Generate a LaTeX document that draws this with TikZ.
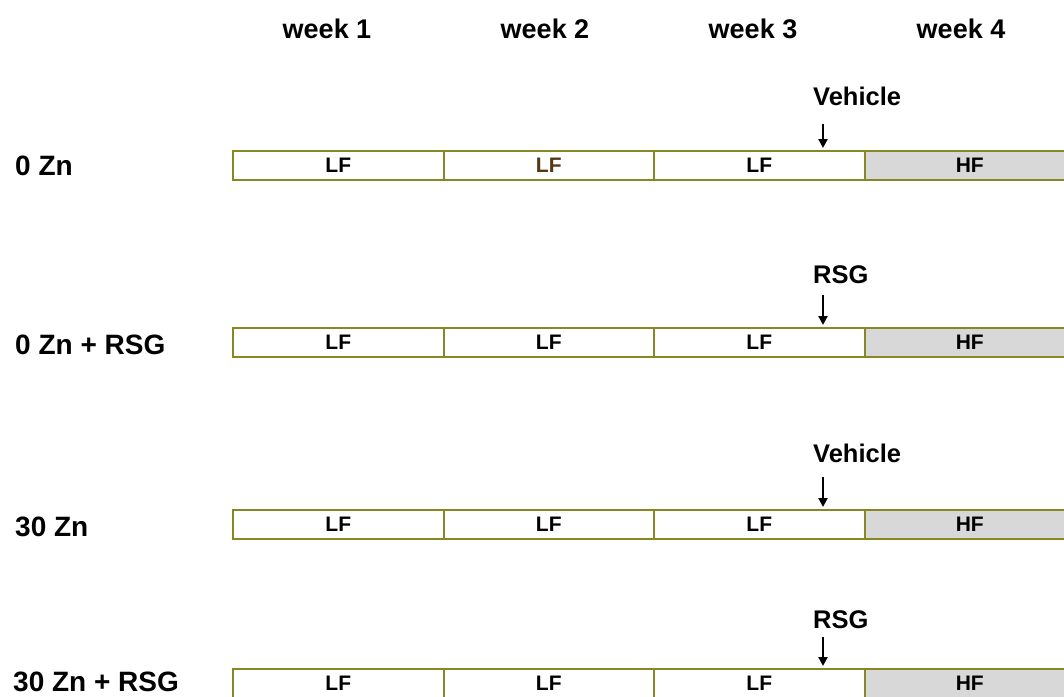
\documentclass[tikz,border=0pt]{standalone}
\usepackage{fontspec}
\setmainfont{Liberation Sans}
\usetikzlibrary{arrows.meta}
\definecolor{olivec}{RGB}{135,135,35}
\definecolor{hfgray}{RGB}{216,216,216}
\definecolor{brownlf}{RGB}{85,55,20}
\tikzset{
  seg/.style={draw=olivec, line width=2pt, minimum width=210.5pt, minimum height=29pt,
    inner sep=0pt, anchor=north west, fill=white,
    font=\fontsize{21}{21}\selectfont\bfseries},
  hfseg/.style={seg, fill=hfgray},
  weeklbl/.style={anchor=base, inner sep=0pt, font=\fontsize{27}{27}\selectfont\bfseries},
  rowlbl/.style={anchor=base west, inner sep=0pt, font=\fontsize{28}{28}\selectfont\bfseries},
  treat/.style={anchor=base west, inner sep=0pt, font=\fontsize{25.5}{25.5}\selectfont\bfseries},
  arr/.style={-{Triangle[length=9pt,width=9pt]}, line width=2.4pt, black}
}
\begin{document}
\begin{tikzpicture}[x=1pt,y=-1pt]
\clip (0,0) rectangle (1064,696);
\fill[white] (0,0) rectangle (1064,696);
% week labels
\node[weeklbl] (w1) at (327,38) {week 1};
\node[weeklbl] (w2) at (545,38) {week 2};
\node[weeklbl] (w3) at (753,38) {week 3};
\node[weeklbl] (w4) at (961,38) {week 4};
% row 1
\node[rowlbl] (r1) at (15,175) {0 Zn};
\node[seg] (a1) at (232,150) {LF};
\node[seg, text=brownlf] (a2) at (442.5,150) {LF};
\node[seg] (a3) at (653,150) {LF};
\node[hfseg] (a4) at (863.5,150) {HF};
\node[treat] (t1) at (813,105) {Vehicle};
\coordinate (p1) at (823,124);
\coordinate (q1) at (823,148);
\draw[arr] (p1) -- (q1);
% row 2
\node[rowlbl] (r2) at (15,354) {0 Zn + RSG};
\node[seg] (b1) at (232,327) {LF};
\node[seg] (b2) at (442.5,327) {LF};
\node[seg] (b3) at (653,327) {LF};
\node[hfseg] (b4) at (863.5,327) {HF};
\node[treat] (t2) at (813,283) {RSG};
\coordinate (p2) at (823,295);
\coordinate (q2) at (823,325);
\draw[arr] (p2) -- (q2);
% row 3
\node[rowlbl] (r3) at (15,536) {30 Zn};
\node[seg] (c1) at (232,509) {LF};
\node[seg] (c2) at (442.5,509) {LF};
\node[seg] (c3) at (653,509) {LF};
\node[hfseg] (c4) at (863.5,509) {HF};
\node[treat] (t3) at (813,462) {Vehicle};
\coordinate (p3) at (823,477);
\coordinate (q3) at (823,507);
\draw[arr] (p3) -- (q3);
% row 4
\node[rowlbl] (r4) at (13,691) {30 Zn + RSG};
\node[seg] (d1) at (232,668) {LF};
\node[seg] (d2) at (442.5,668) {LF};
\node[seg] (d3) at (653,668) {LF};
\node[hfseg] (d4) at (863.5,668) {HF};
\node[treat] (t4) at (813,628) {RSG};
\coordinate (p4) at (823,637);
\coordinate (q4) at (823,666);
\draw[arr] (p4) -- (q4);
\end{tikzpicture}
\end{document}
